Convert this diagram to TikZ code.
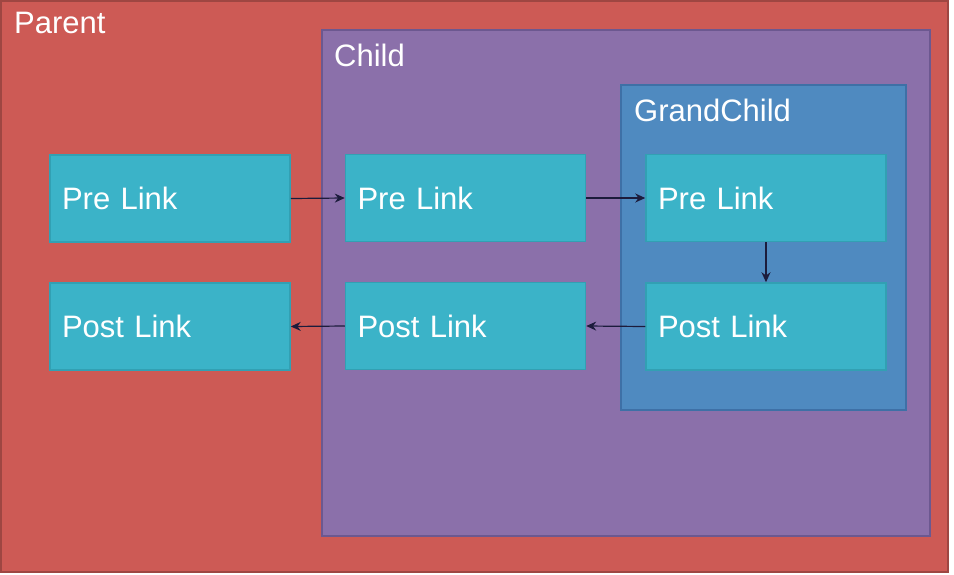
\documentclass[tikz,border=0pt]{standalone}
\usepackage{fontspec}
\setmainfont{Liberation Sans}
\usetikzlibrary{arrows.meta}
\definecolor{parentfill}{HTML}{CD5A55}
\definecolor{parentedge}{HTML}{9E4642}
\definecolor{childfill}{HTML}{8B70AA}
\definecolor{childedge}{HTML}{6C5890}
\definecolor{grandfill}{HTML}{4F8AC0}
\definecolor{grandedge}{HTML}{3E70A6}
\definecolor{linkfill}{HTML}{3BB3C8}
\definecolor{linkedge}{HTML}{32A0B3}
\definecolor{flowline}{HTML}{1C1C3C}
\begin{document}
\begin{tikzpicture}[x=1pt,y=-1pt,
  holder/.style={line width=1.5pt},
  linkbox/.style={draw=linkedge,fill=linkfill,line width=1.5pt,minimum width=240pt,minimum height=87pt,
    text width=216pt,inner xsep=12pt,align=left,text=white,font=\fontsize{31}{36}\selectfont},
  title/.style={anchor=west,inner sep=0pt,text=white,font=\fontsize{31}{36}\selectfont},
  flow/.style={-{Stealth[length=10pt,width=9pt]},line width=1.2pt,draw=flowline}]
\useasboundingbox (0,0) rectangle (954,574);
\fill[white] (0,0) rectangle (954,574);
\draw[holder,fill=parentfill,draw=parentedge] (1,1) rectangle (948,572);
\node[title] (parent) at (14,23) {Parent};
\draw[holder,fill=childfill,draw=childedge] (322,30) rectangle (930,536);
\node[title] (child) at (334,55) {Child};
\draw[holder,fill=grandfill,draw=grandedge] (621,85) rectangle (906,410);
\node[title] (grand) at (634,110) {GrandChild};
\node[linkbox] (ppre) at (170,198.5) {Pre Link};
\node[linkbox] (ppost) at (170,326.5) {Post Link};
\node[linkbox] (cpre) at (465.5,198) {Pre Link};
\node[linkbox] (cpost) at (465.5,326) {Post Link};
\node[linkbox] (gpre) at (766,198) {Pre Link};
\node[linkbox] (gpost) at (766,326.5) {Post Link};
\draw[flow] (ppre.east) -- (cpre.west);
\draw[flow] (cpre.east) -- (gpre.west);
\draw[flow] (gpre.south) -- (gpost.north);
\draw[flow] (gpost.west) -- (cpost.east);
\draw[flow] (cpost.west) -- (ppost.east);
\end{tikzpicture}
\end{document}
